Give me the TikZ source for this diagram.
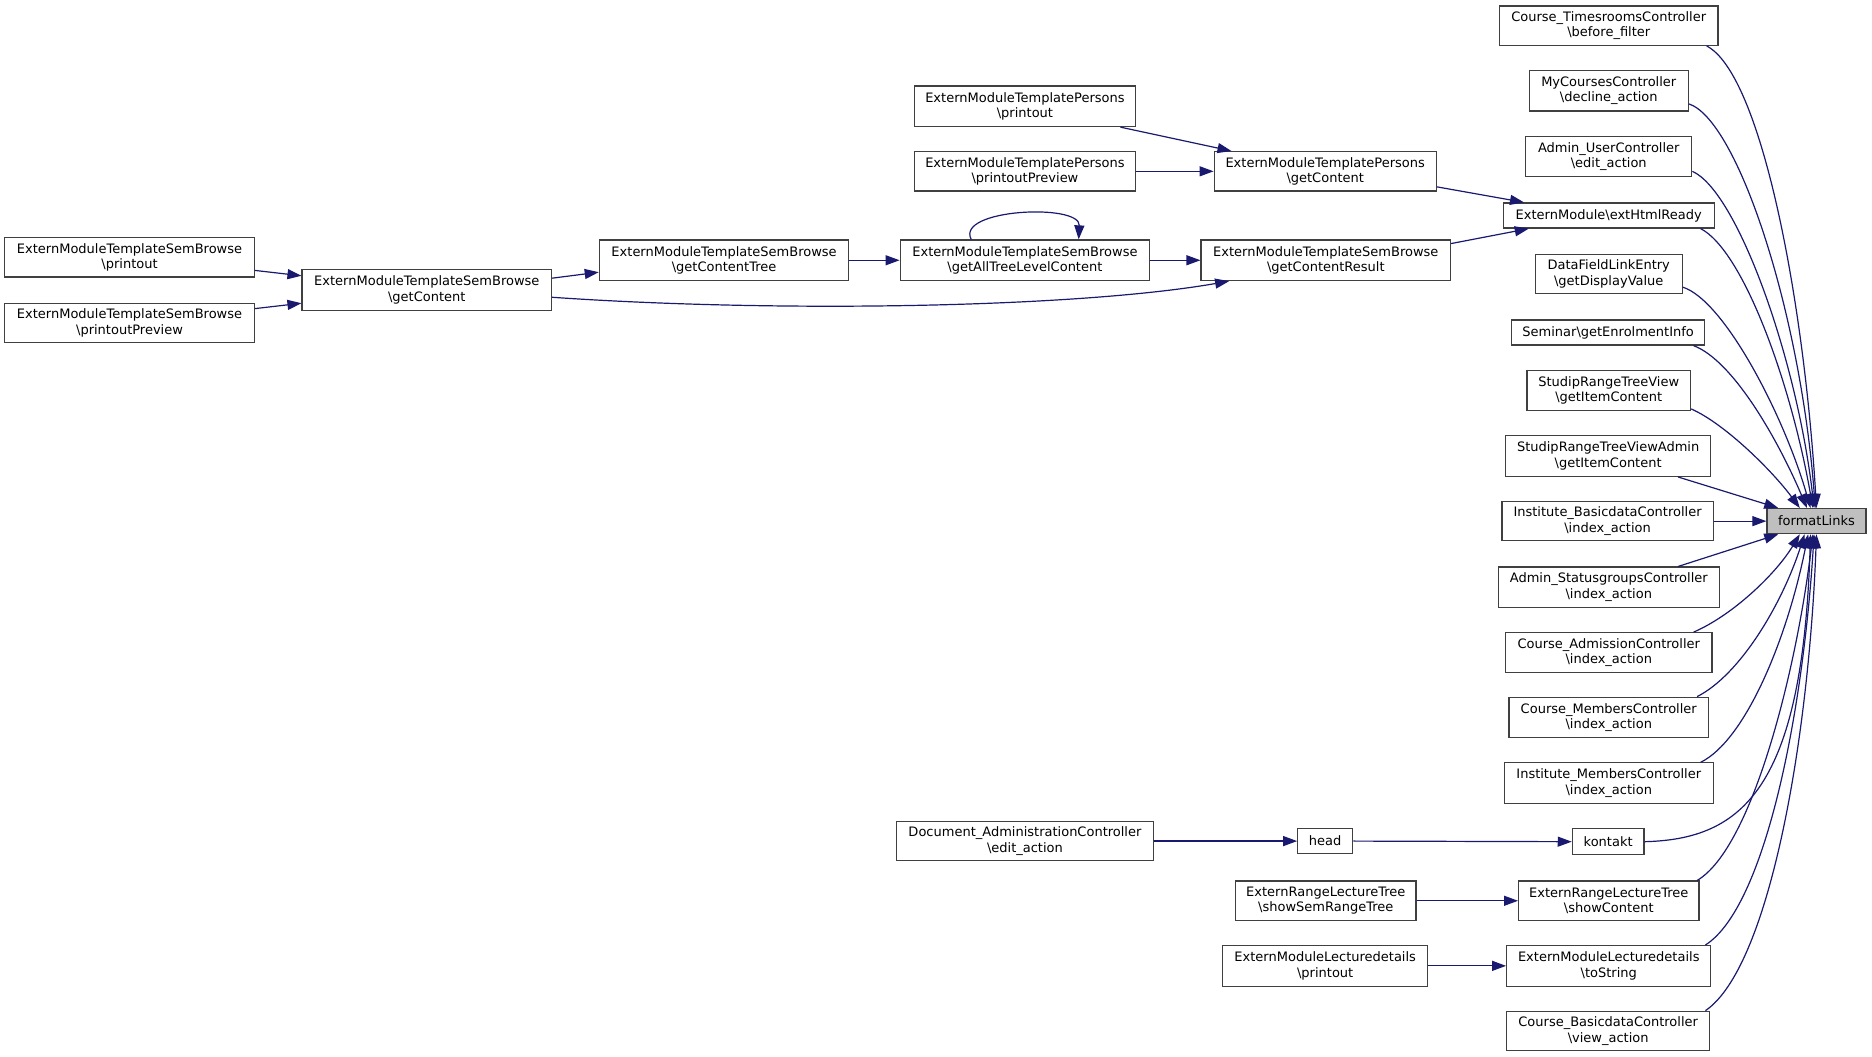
\documentclass[tikz,border=0pt]{standalone}
\usepackage{fontspec}
\setmainfont{DejaVu Sans}
\usetikzlibrary{arrows.meta,calc}
\definecolor{edgec}{HTML}{191970}
\definecolor{boxc}{HTML}{404040}
\definecolor{flfill}{HTML}{BFBFBF}
\newcommand\bs{\textbackslash}
\newcommand\bx[7][]{%
  \pgfmathsetlengthmacro\bxw{(#5-#3)*1.19388pt}%
  \pgfmathsetlengthmacro\bxh{(#6-#4)*1.19388pt}%
  \node[nbox,#1,minimum width=\bxw,minimum height=\bxh] (#2) at ({(#3+#5)/2},{(#4+#6)/2}) {#7};}
\begin{document}
\begin{tikzpicture}[x=1.19388pt,y=-1.19388pt,
  nbox/.style={draw=boxc,line width=1.2pt,fill=white,inner sep=0pt,align=center,
    font=\fontsize{13}{15.6}\selectfont},
  edge/.style={draw=edgec,line width=1.2pt,-{Triangle[length=14pt,width=10pt]}}]
\useasboundingbox[fill=white] (0,0) rectangle (1568,885.35);
% right column
\bx{tr}{1256}{5}{1439}{38}{Course\_TimesroomsController\\\bs before\_filter}
\bx{mc}{1281}{59}{1414}{93}{MyCoursesController\\\bs decline\_action}
\bx{au}{1278}{114}{1417}{148}{Admin\_UserController\\\bs edit\_action}
\bx{eh}{1259}{170}{1436}{191}{ExternModule\bs extHtmlReady}
\bx{df}{1286}{213}{1409}{246}{DataFieldLinkEntry\\\bs getDisplayValue}
\bx{se}{1266}{268}{1428}{289}{Seminar\bs getEnrolmentInfo}
\bx{srtv}{1279}{310}{1416}{344}{StudipRangeTreeView\\\bs getItemContent}
\bx{srtva}{1261}{365}{1433}{399}{StudipRangeTreeViewAdmin\\\bs getItemContent}
\bx{ib}{1258}{420}{1435}{453}{Institute\_BasicdataController\\\bs index\_action}
\bx{as}{1255}{475}{1440}{509}{Admin\_StatusgroupsController\\\bs index\_action}
\bx{ca}{1261}{530}{1434}{563}{Course\_AdmissionController\\\bs index\_action}
\bx{cm}{1264}{584}{1431}{618}{Course\_MembersController\\\bs index\_action}
\bx{im}{1260}{639}{1435}{673}{Institute\_MembersController\\\bs index\_action}
\bx{ko}{1317}{694}{1377}{716}{kontakt}
\bx{sc}{1272}{738}{1423}{771}{ExternRangeLectureTree\\\bs showContent}
\bx{ts}{1262}{792}{1433}{826}{ExternModuleLecturedetails\\\bs toString}
\bx{va}{1262}{847}{1432}{880}{Course\_BasicdataController\\\bs view\_action}
\bx[fill=flfill]{fl}{1480}{426}{1563}{447}{formatLinks}
% left part
\bx{ep1}{766}{72}{951}{106}{ExternModuleTemplatePersons\\\bs printout}
\bx{ep2}{766}{127}{951}{160}{ExternModuleTemplatePersons\\\bs printoutPreview}
\bx{epg}{1017}{127}{1203}{160}{ExternModuleTemplatePersons\\\bs getContent}
\bx{gcr}{1006}{201}{1215}{235}{ExternModuleTemplateSemBrowse\\\bs getContentResult}
\bx{gatl}{754}{201}{963}{235}{ExternModuleTemplateSemBrowse\\\bs getAllTreeLevelContent}
\bx{gct}{502}{201}{711}{235}{ExternModuleTemplateSemBrowse\\\bs getContentTree}
\bx{sbg}{253}{226}{462}{260}{ExternModuleTemplateSemBrowse\\\bs getContent}
\bx{sbp1}{4}{199}{213}{232}{ExternModuleTemplateSemBrowse\\\bs printout}
\bx{sbp2}{4}{254}{213}{287}{ExternModuleTemplateSemBrowse\\\bs printoutPreview}
\bx{doc}{751}{688}{966}{721}{Document\_AdministrationController\\\bs edit\_action}
\bx{head}{1087}{694}{1133}{715}{head}
\bx{ssrt}{1035}{738}{1186}{771}{ExternRangeLectureTree\\\bs showSemRangeTree}
\bx{emlp}{1024}{792}{1196}{826}{ExternModuleLecturedetails\\\bs printout}
% edges into formatLinks
\draw[edge] ($(tr.south east)+(-10,0)$) .. controls (1475,62) and (1511,250) .. ($(fl.north west)+(42,0)$);
\draw[edge] ($(mc.east)+(0,11)$) .. controls (1455,100) and (1508,260) .. ($(fl.north west)+(41,0)$);
\draw[edge] ($(au.south east)+(0,-5)$) .. controls (1455,160) and (1505,300) .. ($(fl.north west)+(40,0)$);
\draw[edge] ($(eh.south east)+(-12,0)$) .. controls (1460,210) and (1500,320) .. ($(fl.north west)+(39,0)$);
\draw[edge] ($(df.south east)+(0,-6)$) .. controls (1445,252) and (1495,350) .. ($(fl.north west)+(37,0)$);
\draw[edge] ($(se.south east)+(-10,0)$) .. controls (1452,302) and (1490,370) .. ($(fl.north west)+(34,0)$);
\draw[edge] ($(srtv.south east)+(0,-2)$) .. controls (1445,355) and (1485,395) .. ($(fl.north west)+(28,0)$);
\draw[edge] ($(srtva.south east)+(-28,0)$) -- ($(fl.north west)+(10,0)$);
\draw[edge] (ib.east) -- (fl.west);
\draw[edge] ($(as.north east)+(-35,0)$) -- ($(fl.south west)+(10,0)$);
\draw[edge] ($(ca.north east)+(-16,0)$) .. controls (1452,515) and (1488,480) .. ($(fl.south west)+(28,0)$);
\draw[edge] ($(cm.north east)+(-10,0)$) .. controls (1458,565) and (1493,505) .. ($(fl.south west)+(32,0)$);
\draw[edge] ($(im.north east)+(-11,0)$) .. controls (1462,620) and (1497,535) .. ($(fl.south west)+(35,0)$);
\draw[edge] (ko.east) .. controls (1460,703) and (1510,660) .. ($(fl.south west)+(37,0)$);
\draw[edge] ($(sc.north east)+(-2,0)$) .. controls (1468,710) and (1505,560) .. ($(fl.south west)+(39,0)$);
\draw[edge] ($(ts.north east)+(-5,0)$) .. controls (1478,760) and (1510,600) .. ($(fl.south west)+(40,0)$);
\draw[edge] ($(va.north east)+(-4,0)$) .. controls (1482,810) and (1515,620) .. ($(fl.south west)+(42,0)$);
% other edges
\draw[edge] ($(ep1.south east)+(-13,0)$) -- ($(epg.north west)+(15,0)$);
\draw[edge] (ep2.east) -- (epg.west);
\draw[edge] ($(epg.south east)+(0,-4)$) -- ($(eh.north west)+(18,0)$);
\draw[edge] ($(gcr.east)+(0,-14)$) -- ($(eh.south west)+(22,0)$);
\draw[edge] (gatl.east) -- (gcr.west);
\draw[edge] ($(gatl.north)+(-45,0)$) .. controls (800,175) and (905,170) .. ($(gatl.north)+(45,0)$);
\draw[edge] (gct.east) -- (gatl.west);
\draw[edge] ($(sbg.east)+(0,-10)$) -- ($(gct.west)+(0,10)$);
\draw[edge] ($(sbg.east)+(0,6)$) .. controls (650,262) and (900,258) .. ($(gcr.south west)+(24,0)$);
\draw[edge] ($(sbp1.south east)+(0,-6)$) -- ($(sbg.west)+(0,-12)$);
\draw[edge] ($(sbp2.north east)+(0,5)$) -- ($(sbg.west)+(0,11)$);
\draw[edge] (doc.east) -- (head.west);
\draw[edge] (head.east) -- (ko.west);
\draw[edge] (ssrt.east) -- (sc.west);
\draw[edge] (emlp.east) -- (ts.west);
\end{tikzpicture}
\end{document}
